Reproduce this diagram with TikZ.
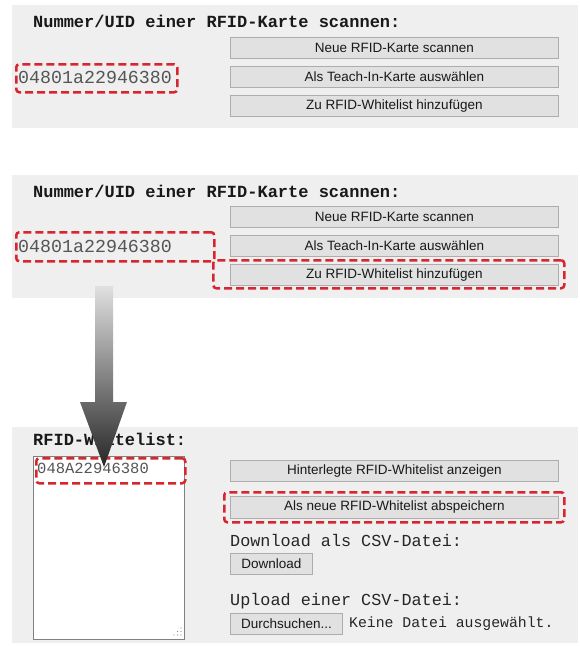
\documentclass[tikz,border=0pt]{standalone}
\usepackage{fontspec}
\setmainfont{Liberation Sans}
\newfontfamily\monofam{Liberation Mono}
\definecolor{panelgray}{HTML}{EFEFEF}
\definecolor{btnfill}{HTML}{E1E1E1}
\definecolor{btnborder}{HTML}{ADADAD}
\definecolor{hlred}{HTML}{D7262F}
\definecolor{uidgray}{HTML}{555555}
\begin{document}
\begin{tikzpicture}[x=1pt,y=-1pt,
  panel/.style={fill=panelgray,draw=none},
  btn/.style={draw=btnborder,fill=btnfill,line width=0.8pt,inner sep=0pt,
    text=black!90,font=\fontsize{13.5}{14}\selectfont,anchor=north west},
  hl/.style={draw=hlred,line width=2.5pt,dash pattern=on 8pt off 4pt,rounded corners=3pt,fill=none},
  title/.style={anchor=base west,inner sep=0pt,font=\monofam\bfseries\fontsize{17}{17}\selectfont,text=black!90},
  lbl/.style={anchor=base west,inner sep=0pt,font=\monofam\fontsize{16.8}{17}\selectfont,text=black!85},
  uid/.style={anchor=base west,inner sep=0pt,font=\monofam\fontsize{18.3}{18}\selectfont,text=uidgray},
]
\useasboundingbox (0,0) rectangle (579,646);

% ---------- Panel 1 ----------
\fill[panel] (12,5) rectangle (578,128);
\node[title] (t1) at (33,27) {Nummer/UID einer RFID-Karte scannen:};
\node[btn,minimum width=328pt,minimum height=21pt] (b11) at (230,37) {Neue RFID-Karte scannen};
\node[btn,minimum width=328pt,minimum height=21pt] (b12) at (230,66) {Als Teach-In-Karte auswählen};
\node[btn,minimum width=328pt,minimum height=21pt] (b13) at (230,95) {Zu RFID-Whitelist hinzufügen};
\node[uid] (u1) at (18,83) {04801a22946380};
\node[hl,anchor=north west,minimum width=161pt,minimum height=28pt] (h11) at (15,63) {};

% ---------- Panel 2 ----------
\fill[panel] (12,175) rectangle (578,298);
\node[title] (t2) at (33,197) {Nummer/UID einer RFID-Karte scannen:};
\node[btn,minimum width=328pt,minimum height=21pt] (b21) at (230,206) {Neue RFID-Karte scannen};
\node[btn,minimum width=328pt,minimum height=21pt] (b22) at (230,235) {Als Teach-In-Karte auswählen};
\node[btn,minimum width=328pt,minimum height=21pt] (b23) at (230,264) {Zu RFID-Whitelist hinzufügen};
\node[uid] (u2) at (18,252) {04801a22946380};
\node[hl,anchor=north west,minimum width=198pt,minimum height=29pt] (h21) at (15,231) {};
\node[hl,anchor=north west,minimum width=351pt,minimum height=28pt] (h22) at (212,259) {};

% ---------- Panel 3 ----------
\fill[panel] (12,427) rectangle (578,643);
\node[title] (t3) at (33,445) {RFID-Whitelist:};
\node[draw=black!50,fill=white,line width=0.8pt,anchor=north west,minimum width=151pt,minimum height=183pt,inner sep=0pt] (ta) at (33,456) {};
\foreach \p in {(181,628),(181,631.5),(181,635),(177.5,631.5),(177.5,635),(174,635)}
  \fill[black!45] \p circle (0.7pt);
\node[anchor=base west,inner sep=0pt,font=\monofam\fontsize{15.5}{16}\selectfont,text=uidgray] (u3) at (37,473) {048A22946380};
\node[hl,anchor=north west,minimum width=149pt,minimum height=25pt] (h31) at (35,457) {};
\node[btn,minimum width=328pt,minimum height=21pt] (b31) at (230,460) {Hinterlegte RFID-Whitelist anzeigen};
\node[btn,minimum width=328pt,minimum height=22pt] (b32) at (230,496) {Als neue RFID-Whitelist abspeichern};
\node[hl,anchor=north west,minimum width=340pt,minimum height=30pt] (h32) at (223,491) {};
\node[lbl] (l1) at (230,546) {Download als CSV-Datei:};
\node[btn,minimum width=82pt,minimum height=21pt] (b33) at (230,553) {Download};
\node[lbl] (l2) at (230,605) {Upload einer CSV-Datei:};
\node[btn,minimum width=112pt,minimum height=21pt] (b34) at (230,613) {Durchsuchen...};
\node[anchor=base west,inner sep=0pt,font=\monofam\fontsize{14.8}{15}\selectfont,text=black!85] (l3) at (349,627) {Keine Datei ausgewählt.};

% ---------- Arrow ----------
\shade[top color=black!12,bottom color=black!85,draw=none]
  (95,286) -- (113,286) -- (113,402) -- (127,402) -- (104,467) -- (80,402) -- (95,402) -- cycle;
\end{tikzpicture}
\end{document}
